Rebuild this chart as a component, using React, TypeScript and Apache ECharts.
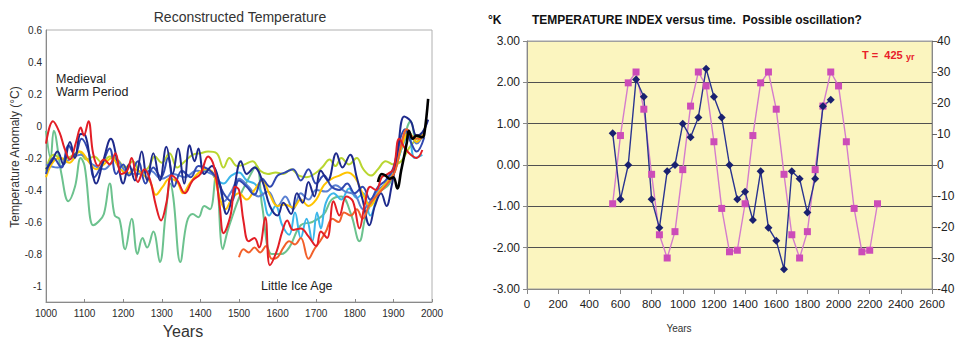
import React, { useEffect, useRef } from 'react';
import * as echarts from 'echarts';

type P = [number, number];

// ---------- Left chart: Reconstructed Temperature (year, anomaly °C) ----------
const GREEN: P[] = [[1000,-0.03],[1012,-0.2],[1020,-0.03],[1040,-0.3],[1058,-0.47],[1075,-0.38],[1090,-0.2],[1100,-0.25],[1122,-0.62],[1135,-0.6],[1150,-0.55],[1165,-0.36],[1178,-0.56],[1190,-0.58],[1205,-0.77],[1222,-0.58],[1237,-0.8],[1250,-0.7],[1262,-0.76],[1278,-0.66],[1295,-0.85],[1310,-0.55],[1322,-0.36],[1330,-0.45],[1348,-0.85],[1365,-0.6],[1380,-0.55],[1395,-0.57],[1410,-0.5],[1425,-0.52],[1440,-0.3],[1458,-0.77],[1470,-0.66],[1485,-0.55],[1500,-0.45],[1520,-0.35],[1545,-0.25],[1560,-0.5],[1585,-0.8],[1610,-0.8],[1630,-0.76],[1660,-0.62],[1690,-0.6],[1720,-0.55],[1740,-0.46],[1765,-0.44],[1790,-0.55],[1812,-0.72],[1830,-0.55],[1860,-0.42],[1890,-0.36],[1920,-0.15],[1945,0.03],[1960,-0.1],[1975,-0.05]];
const YELLOW_GREEN: P[] = [[1000,-0.28],[1020,-0.18],[1045,-0.21],[1065,-0.19],[1085,-0.16],[1105,-0.21],[1125,-0.19],[1145,-0.23],[1165,-0.19],[1185,-0.21],[1205,-0.26],[1225,-0.22],[1245,-0.29],[1265,-0.26],[1282,-0.19],[1300,-0.23],[1320,-0.17],[1340,-0.26],[1360,-0.22],[1380,-0.18],[1400,-0.17],[1420,-0.16],[1442,-0.17],[1460,-0.26],[1475,-0.2],[1495,-0.25],[1515,-0.24],[1535,-0.22],[1555,-0.28],[1575,-0.3],[1595,-0.29],[1615,-0.3],[1635,-0.27],[1655,-0.31],[1675,-0.32],[1695,-0.3],[1715,-0.26],[1735,-0.21],[1750,-0.25],[1765,-0.2],[1785,-0.24],[1805,-0.2],[1822,-0.27],[1842,-0.31],[1860,-0.27],[1880,-0.22],[1900,-0.24],[1920,-0.22],[1940,-0.14],[1960,-0.08],[1975,-0.05]];
const CYAN: P[] = [[1400,-0.3],[1420,-0.27],[1440,-0.33],[1460,-0.36],[1480,-0.31],[1500,-0.29],[1520,-0.34],[1540,-0.36],[1560,-0.42],[1578,-0.56],[1595,-0.5],[1612,-0.62],[1630,-0.68],[1645,-0.54],[1660,-0.7],[1675,-0.58],[1690,-0.72],[1702,-0.54],[1712,-0.64],[1725,-0.48],[1745,-0.42],[1765,-0.46],[1785,-0.39],[1805,-0.45],[1822,-0.42],[1840,-0.56],[1860,-0.43],[1880,-0.36],[1900,-0.3],[1920,-0.15],[1940,-0.05],[1955,-0.2],[1975,-0.18]];
const LIGHT_BLUE: P[] = [[1000,-0.24],[1030,-0.26],[1060,-0.21],[1090,-0.18],[1120,-0.24],[1150,-0.27],[1180,-0.21],[1210,-0.29],[1240,-0.3],[1270,-0.28],[1300,-0.33],[1330,-0.3],[1360,-0.32],[1390,-0.28],[1420,-0.29],[1445,-0.33],[1462,-0.47],[1480,-0.41],[1500,-0.33],[1525,-0.38],[1550,-0.44],[1575,-0.41],[1600,-0.5],[1620,-0.44],[1640,-0.52],[1660,-0.42],[1680,-0.46],[1700,-0.4],[1725,-0.41],[1750,-0.37],[1775,-0.41],[1800,-0.43],[1822,-0.52],[1840,-0.47],[1860,-0.4],[1880,-0.36],[1900,-0.28],[1920,-0.1],[1940,-0.04],[1960,-0.11],[1980,-0.03]];
const YELLOW: P[] = [[1000,-0.32],[1020,-0.22],[1040,-0.2],[1060,-0.23],[1088,-0.16],[1110,-0.22],[1130,-0.27],[1150,-0.24],[1170,-0.2],[1190,-0.26],[1210,-0.3],[1230,-0.27],[1250,-0.3],[1270,-0.35],[1285,-0.43],[1302,-0.38],[1320,-0.33],[1340,-0.35],[1355,-0.42],[1372,-0.36],[1392,-0.3],[1412,-0.27],[1432,-0.29],[1450,-0.45],[1465,-0.52],[1480,-0.46],[1500,-0.42],[1520,-0.46],[1540,-0.4],[1560,-0.34],[1580,-0.43],[1600,-0.5],[1620,-0.49],[1640,-0.51],[1660,-0.46],[1680,-0.5],[1700,-0.46],[1720,-0.37],[1740,-0.33],[1760,-0.31],[1780,-0.29],[1800,-0.32],[1820,-0.42],[1840,-0.5],[1860,-0.42],[1880,-0.36],[1900,-0.3],[1920,-0.14],[1940,-0.04],[1960,-0.1],[1980,-0.04]];
const ROYAL: P[] = [[1000,-0.3],[1020,-0.2],[1040,-0.26],[1058,-0.12],[1075,-0.18],[1092,-0.08],[1110,-0.16],[1125,-0.32],[1145,-0.24],[1165,-0.14],[1182,-0.3],[1200,-0.24],[1215,-0.31],[1238,-0.22],[1258,-0.36],[1278,-0.26],[1298,-0.32],[1316,-0.2],[1332,-0.38],[1352,-0.28],[1375,-0.32],[1395,-0.25],[1420,-0.27],[1440,-0.32],[1460,-0.42],[1480,-0.47],[1500,-0.34],[1520,-0.38],[1540,-0.43],[1560,-0.33],[1580,-0.38],[1600,-0.31],[1620,-0.29],[1640,-0.27],[1660,-0.34],[1680,-0.27],[1700,-0.36],[1720,-0.31],[1740,-0.38],[1760,-0.4],[1780,-0.36],[1800,-0.42],[1820,-0.38],[1840,-0.46],[1860,-0.38],[1880,-0.34],[1900,-0.26],[1915,-0.1],[1930,-0.02],[1945,-0.1],[1960,-0.16],[1980,-0.07]];
const NAVY: P[] = [[1000,-0.27],[1015,-0.22],[1030,-0.16],[1045,-0.24],[1062,-0.1],[1075,-0.2],[1090,-0.05],[1102,-0.06],[1115,-0.22],[1130,-0.36],[1148,-0.22],[1168,-0.08],[1185,-0.22],[1200,-0.36],[1215,-0.24],[1230,-0.34],[1248,-0.16],[1262,-0.34],[1278,-0.17],[1295,-0.34],[1312,-0.13],[1328,-0.3],[1342,-0.14],[1358,-0.36],[1372,-0.12],[1385,-0.22],[1395,-0.14],[1410,-0.3],[1430,-0.25],[1450,-0.36],[1468,-0.55],[1485,-0.42],[1505,-0.22],[1520,-0.3],[1540,-0.26],[1560,-0.34],[1580,-0.5],[1600,-0.56],[1615,-0.48],[1635,-0.55],[1650,-0.42],[1665,-0.48],[1680,-0.35],[1695,-0.44],[1712,-0.28],[1730,-0.34],[1752,-0.17],[1768,-0.26],[1788,-0.18],[1805,-0.32],[1820,-0.46],[1838,-0.62],[1852,-0.5],[1868,-0.42],[1882,-0.5],[1895,-0.38],[1910,-0.18],[1928,0.06],[1945,0.03],[1960,-0.06],[1975,-0.04],[1990,0.04]];
const ORANGE: P[] = [[1500,-0.82],[1512,-0.77],[1525,-0.79],[1540,-0.76],[1555,-0.79],[1570,-0.75],[1585,-0.83],[1600,-0.82],[1615,-0.76],[1630,-0.72],[1645,-0.74],[1660,-0.7],[1680,-0.83],[1695,-0.77],[1710,-0.72],[1725,-0.66],[1742,-0.58],[1758,-0.6],[1772,-0.54],[1790,-0.56],[1805,-0.52],[1820,-0.58],[1838,-0.49],[1855,-0.44],[1870,-0.4],[1888,-0.35],[1905,-0.28],[1920,-0.12],[1935,-0.02],[1950,-0.07],[1965,-0.08],[1980,-0.05]];
const RED: P[] = [[1000,-0.11],[1018,0.03],[1035,-0.04],[1048,-0.14],[1062,-0.21],[1078,-0.1],[1090,-0.01],[1098,-0.06],[1110,0.03],[1122,-0.17],[1135,-0.25],[1150,-0.21],[1165,-0.24],[1180,-0.17],[1195,-0.3],[1210,-0.28],[1222,-0.2],[1238,-0.35],[1255,-0.27],[1270,-0.34],[1285,-0.5],[1298,-0.59],[1312,-0.48],[1325,-0.31],[1340,-0.34],[1360,-0.42],[1380,-0.34],[1400,-0.3],[1420,-0.19],[1435,-0.25],[1450,-0.5],[1460,-0.67],[1478,-0.56],[1490,-0.38],[1500,-0.4],[1512,-0.6],[1525,-0.72],[1540,-0.7],[1552,-0.76],[1568,-0.57],[1580,-0.87],[1598,-0.78],[1612,-0.66],[1625,-0.59],[1640,-0.65],[1660,-0.64],[1680,-0.69],[1700,-0.75],[1712,-0.66],[1728,-0.7],[1745,-0.47],[1760,-0.56],[1778,-0.44],[1795,-0.47],[1812,-0.64],[1825,-0.5],[1840,-0.38],[1855,-0.4],[1870,-0.32],[1885,-0.3],[1900,-0.27],[1915,-0.08],[1930,-0.14],[1945,-0.18],[1960,-0.2],[1975,-0.15]];
const INSTRUMENTAL: P[] = [[1860,-0.35],[1870,-0.3],[1880,-0.31],[1890,-0.33],[1900,-0.32],[1910,-0.39],[1920,-0.28],[1935,-0.1],[1940,-0.03],[1950,-0.08],[1960,-0.06],[1975,-0.07],[1980,-0.05],[1990,0.17]];

// ---------- Right chart: Temperature index vs time ----------
const OSC_YEARS = [550,600,650,700,750,800,850,900,950,1000,1050,1100,1150,1200,1250,1300,1350,1400,1450,1500,1550,1600,1650,1700,1750,1800,1850,1900,1950,2000,2050,2100,2150,2200,2250];
const INDEX_K = [0.77,-0.83,0.0,2.07,1.65,-0.83,-1.52,-0.15,0.0,1.0,0.67,1.15,2.33,1.65,1.15,0.0,-0.83,-0.65,-1.33,-0.15,-1.52,-1.83,-2.52,-0.15,-0.33,-1.15,-0.33,1.42,1.58];
const OSC_FIT = [-12.5,9.5,26.5,30,18,-3,-22.5,-30,-21.5,-1.5,19,30,25.5,7.5,-14,-28,-27.5,-12.5,9.5,26.5,30,18,-3,-22.5,-30,-21.5,-1.5,19,30,25.5,7.5,-14,-28,-27.5,-12.5];

const FONT = '"Liberation Sans", Arial, sans-serif';

const leftLines: { name: string; data: P[]; color: string; width?: number }[] = [
  { name: 'green', data: GREEN, color: '#6cc28e' },
  { name: 'yellowgreen', data: YELLOW_GREEN, color: '#b9d630' },
  { name: 'cyan', data: CYAN, color: '#3cb6ea' },
  { name: 'lightblue', data: LIGHT_BLUE, color: '#5a80d2' },
  { name: 'yellow', data: YELLOW, color: '#ffc400' },
  { name: 'royal', data: ROYAL, color: '#3048b0' },
  { name: 'navy', data: NAVY, color: '#1e2a8c' },
  { name: 'orange', data: ORANGE, color: '#f2602a' },
  { name: 'red', data: RED, color: '#e31e26' },
  { name: 'black', data: INSTRUMENTAL, color: '#000000', width: 2.6 },
];

function buildOption(): any {
  const blueData = INDEX_K.map((v, i) => [OSC_YEARS[i], v]);
  const pinkData = OSC_FIT.map((v, i) => [OSC_YEARS[i], v]);
  return {
    animation: false,
    backgroundColor: '#ffffff',
    textStyle: { fontFamily: FONT },
    grid: [
      { left: 46, top: 30, width: 386, height: 272, show: true, borderColor: '#b0b0b0', borderWidth: 1, backgroundColor: 'transparent' },
      { left: 527, top: 41, width: 405, height: 248, show: true, borderColor: '#a0a0a0', borderWidth: 1, backgroundColor: '#fbf5bf' },
    ],
    xAxis: [
      {
        gridIndex: 0, type: 'value', min: 1000, max: 2000, interval: 100,
        axisLine: { onZero: false, lineStyle: { color: '#8a8a8a' } },
        axisTick: { inside: true, length: 3, lineStyle: { color: '#8a8a8a' } },
        axisLabel: { color: '#2a2a2a', fontSize: 10, margin: 6, fontFamily: FONT, formatter: (v: number) => String(v) },
        splitLine: { show: false },
      },
      {
        gridIndex: 1, type: 'value', min: 0, max: 2600, interval: 200,
        axisLine: { onZero: false, lineStyle: { color: '#888' } },
        axisTick: { length: 5, lineStyle: { color: '#888' } },
        axisLabel: { color: '#222', fontSize: 11.5, margin: 9, fontFamily: FONT, formatter: (v: number) => String(v) },
        splitLine: { show: false },
      },
    ],
    yAxis: [
      {
        gridIndex: 0, type: 'value', min: -1.1, max: 0.6, interval: 0.1,
        axisLine: { show: true, onZero: false, lineStyle: { color: '#8a8a8a' } },
        axisTick: { show: false },
        axisLabel: {
          color: '#2a2a2a', fontSize: 10, margin: 4, fontFamily: FONT,
          formatter: (v: number) => {
            const k = Math.round(v * 10);
            if (k % 2 !== 0) return '';
            return k === 0 ? '0' : String(k / 10);
          },
        },
        splitLine: { show: false },
      },
      {
        gridIndex: 1, type: 'value', min: -3, max: 3, interval: 1, position: 'left',
        axisLine: { show: true, onZero: false, lineStyle: { color: '#888' } },
        axisTick: { show: true, length: 4, lineStyle: { color: '#888' } },
        axisLabel: { color: '#222', fontSize: 12, margin: 7, fontFamily: FONT, formatter: (v: number) => v.toFixed(2) },
        splitLine: { show: true, lineStyle: { color: ['#a0a0a0', '#505050', '#505050', '#505050', '#505050', '#505050', '#a0a0a0'], width: 1 } },
      },
      {
        gridIndex: 1, type: 'value', min: -40, max: 40, interval: 10, position: 'right',
        axisLine: { show: true, onZero: false, lineStyle: { color: '#888' } },
        axisTick: { show: true, length: 5, lineStyle: { color: '#666' } },
        axisLabel: { color: '#222', fontSize: 12, margin: 5, fontFamily: FONT },
        splitLine: { show: false },
      },
    ],
    series: [
      ...leftLines.map((s) => ({
        name: s.name, type: 'line', xAxisIndex: 0, yAxisIndex: 0,
        data: s.data, smooth: 0.4, showSymbol: false, symbol: 'none',
        lineStyle: { color: s.color, width: s.width ?? 2 },
        z: 2,
      })),
      {
        name: 'fit', type: 'line', xAxisIndex: 1, yAxisIndex: 2, data: pinkData,
        symbol: 'rect', symbolSize: 7, showSymbol: true,
        itemStyle: { color: '#cc4cb8' }, lineStyle: { color: '#d47ccc', width: 1.4 },
      },
      {
        name: 'index', type: 'line', xAxisIndex: 1, yAxisIndex: 1, data: blueData,
        symbol: 'diamond', symbolSize: 8, showSymbol: true,
        itemStyle: { color: '#1a2170' }, lineStyle: { color: '#2a3490', width: 1.4 },
      },
    ],
    graphic: [
      { type: 'text', x: 240, y: 17, style: { text: 'Reconstructed Temperature', font: `14px ${FONT}`, fill: '#333', textAlign: 'center', textVerticalAlign: 'middle' } },
      { type: 'text', x: 15, y: 157, rotation: Math.PI / 2, style: { text: 'Temperature Anomaly (°C)', font: `12px ${FONT}`, fill: '#333', textAlign: 'center', textVerticalAlign: 'middle' } },
      { type: 'text', x: 56, y: 79, style: { text: 'Medieval', font: `12.5px ${FONT}`, fill: '#222', textAlign: 'left', textVerticalAlign: 'middle' } },
      { type: 'text', x: 56, y: 92, style: { text: 'Warm Period', font: `12.5px ${FONT}`, fill: '#222', textAlign: 'left', textVerticalAlign: 'middle' } },
      { type: 'text', x: 261, y: 286, style: { text: 'Little Ice Age', font: `12.5px ${FONT}`, fill: '#222', textAlign: 'left', textVerticalAlign: 'middle' } },
      { type: 'text', x: 183, y: 331, style: { text: 'Years', font: `16px ${FONT}`, fill: '#333', textAlign: 'center', textVerticalAlign: 'middle' } },
      { type: 'text', x: 488, y: 20, style: { text: '°K', font: `bold 12px ${FONT}`, fill: '#111', textAlign: 'left', textVerticalAlign: 'middle' } },
      { type: 'text', x: 532, y: 20, style: { text: 'TEMPERATURE INDEX versus time.  Possible oscillation?', font: `bold 12px ${FONT}`, fill: '#111', textAlign: 'left', textVerticalAlign: 'middle' } },
      { type: 'text', x: 862, y: 55, style: { text: '{a|T =  425} {b|yr}', textAlign: 'left', textVerticalAlign: 'middle', rich: { a: { font: `bold 11px ${FONT}`, fill: '#e8202a', color: '#e8202a' }, b: { font: `bold 9px ${FONT}`, fill: '#e8202a', color: '#e8202a', padding: [3, 0, 0, 0] } } } },
      { type: 'text', x: 679, y: 328, style: { text: 'Years', font: `10px ${FONT}`, fill: '#333', textAlign: 'center', textVerticalAlign: 'middle' } },
    ],
  };
}

export default function App() {
  const ref = useRef<HTMLDivElement>(null);
  useEffect(() => {
    document.body.style.margin = '0';
    const chart = echarts.init(ref.current!, null, { renderer: 'svg' });
    chart.setOption(buildOption());
    return () => chart.dispose();
  }, []);
  return <div ref={ref} style={{ width: 959, height: 340 }} />;
}
